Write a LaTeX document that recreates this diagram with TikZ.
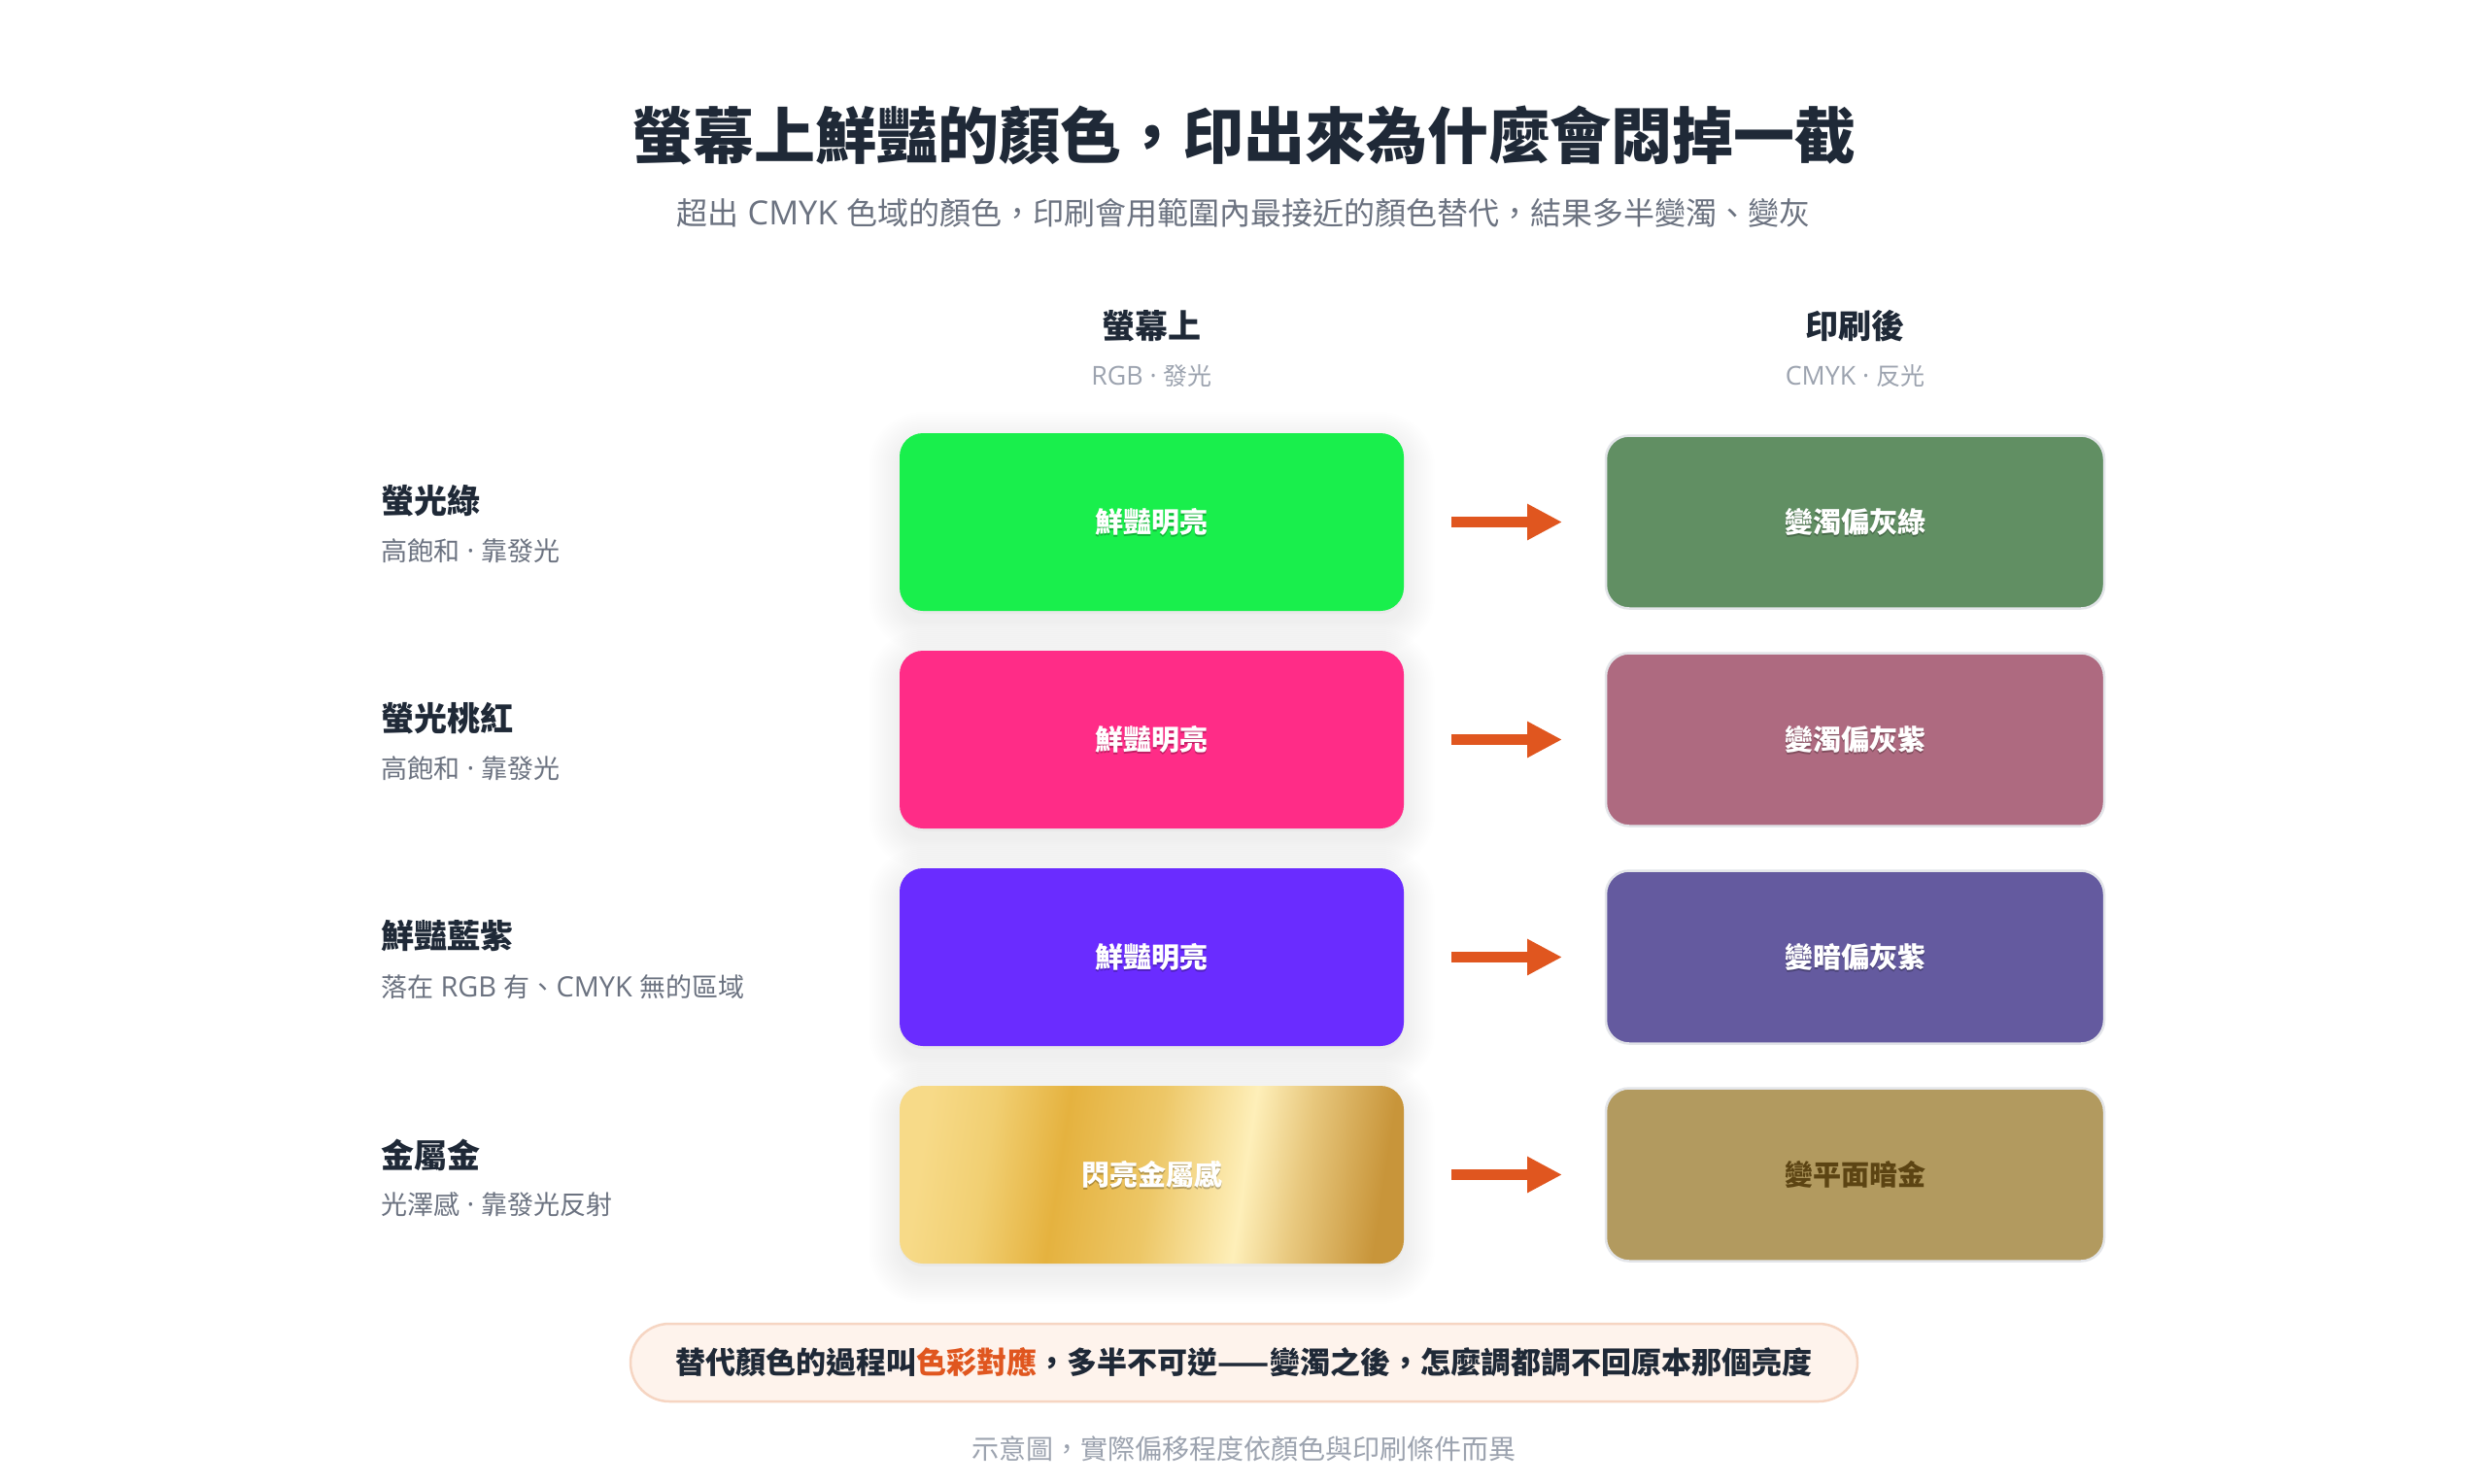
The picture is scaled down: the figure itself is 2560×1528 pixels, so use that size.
\documentclass[tikz,border=0pt]{standalone}
\usepackage{fontspec}
\setmainfont{Noto Sans CJK TC}
\newfontfamily\lat{Open Sans}[Scale=1.07]
\usetikzlibrary{arrows.meta}

\definecolor{ink}{HTML}{1F2937}
\definecolor{subgray}{HTML}{6B7280}
\definecolor{lightgray}{HTML}{9CA3AF}
\definecolor{neongreen}{HTML}{19EF4C}
\definecolor{neonpink}{HTML}{FF2C87}
\definecolor{neonviolet}{HTML}{6A2CFF}
\definecolor{dullgreen}{HTML}{618F63}
\definecolor{dullpink}{HTML}{AE6A80}
\definecolor{dullviolet}{HTML}{645A9F}
\definecolor{dullgold}{HTML}{B29A5F}
\definecolor{goldtext}{HTML}{5C4413}
\definecolor{cardedge}{HTML}{E3E5E9}
\definecolor{accent}{HTML}{E0561F}
\definecolor{notefill}{HTML}{FEF3EC}
\definecolor{noteedge}{HTML}{F6D5C2}
\definecolor{goldA}{HTML}{F7DA88}
\definecolor{goldB}{HTML}{F1CF72}
\definecolor{goldC}{HTML}{E5B23F}
\definecolor{goldD}{HTML}{EDC767}
\definecolor{goldE}{HTML}{FEEFB9}
\definecolor{goldF}{HTML}{E8C87E}
\definecolor{goldG}{HTML}{C8953A}

% metallic sheen: the path box spans 25bp..75bp of the shading
\pgfdeclarehorizontalshading{goldsheen}{100bp}{%
  color(0bp)=(goldA); color(25bp)=(goldA); color(32bp)=(goldB);
  color(40bp)=(goldC); color(50bp)=(goldD); color(60bp)=(goldE);
  color(66bp)=(goldF); color(75bp)=(goldG); color(100bp)=(goldG)}

\pgfdeclarelayer{shadowlayer}
\pgfsetlayers{shadowlayer,main}

\tikzset{
  x=1pt, y=-1pt,
  every node/.style={inner sep=0pt, outer sep=0pt},
  maintitle/.style={font=\fontsize{63}{72}\selectfont\bfseries, text=ink},
  subtitle/.style={font=\fontsize{32}{38}\selectfont, text=subgray},
  colhead/.style={font=\fontsize{34}{40}\selectfont\bfseries, text=ink},
  colsub/.style={font=\fontsize{25}{30}\selectfont, text=lightgray},
  rowhead/.style={anchor=west, font=\fontsize{34}{40}\selectfont\bfseries, text=ink},
  rowsub/.style={anchor=west, font=\fontsize{27}{32}\selectfont, text=subgray},
  screencard/.style={minimum width=519pt, minimum height=183pt, rounded corners=24pt},
  printcard/.style={minimum width=513pt, minimum height=178pt, rounded corners=24pt,
    draw=cardedge, line width=2.5pt},
  cardtext/.style={font=\fontsize{29}{34}\selectfont\bfseries, text=white},
  cardshade/.style={font=\fontsize{29}{34}\selectfont\bfseries, text=black, text opacity=0.25},
  flow/.style={draw=accent, line width=11pt, -{Triangle[length=36pt,width=35pt]},
    shorten <=49pt, shorten >=45pt},
  notebox/.style={minimum width=1263pt, minimum height=80pt, rounded corners=40pt,
    fill=notefill, draw=noteedge, line width=2.5pt,
    font=\fontsize{31}{36}\selectfont\bfseries, text=ink},
  footnote/.style={font=\fontsize{28}{32}\selectfont, text=lightgray},
}

% white card label with a soft drop under it
\newcommand{\litlabel}[3]{%
  \node[cardshade] (#1-shade) at ([yshift=-2pt]#2.center) {#3};
  \node[cardtext] (#1) at (#2.center) {#3};}

% soft drop shadow under a card, built from stacked translucent outlines
\newcommand{\cardshadow}[1]{%
  \foreach \k in {1,...,16}{%
    \pgfmathsetmacro\e{2*\k}%
    \pgfmathsetmacro\rr{24+\e}%
    \fill[black, opacity=0.0035, rounded corners=\rr pt]
      ([xshift=-\e pt, yshift=\e pt-10pt]#1.north west) rectangle
      ([xshift=\e pt, yshift=-\e pt-10pt]#1.south east);
  }%
  \fill[black, opacity=0.025, rounded corners=24pt]
    ([yshift=-3pt]#1.north west) rectangle ([yshift=-3pt]#1.south east);}

\begin{document}
\begin{tikzpicture}
\useasboundingbox (0,0) rectangle (2560,1528);
\begin{pgfonlayer}{shadowlayer}
\fill[white] (0,0) rectangle (2560,1528);
\end{pgfonlayer}

% heading
\node[maintitle] (title) at (1280,139) {螢幕上鮮豔的顏色，印出來為什麼會悶掉一截};
\node[subtitle] (lead) at (1280,219) {超出{\lat{} CMYK }色域的顏色，印刷會用範圍內最接近的顏色替代，結果多半變濁、變灰};

% column headings
\node[colhead] (hscreen) at (1185.5,336) {螢幕上};
\node[colsub] (hscreensub) at (1185.5,387) {{\lat RGB · }發光};
\node[colhead] (hprint) at (1909.5,336) {印刷後};
\node[colsub] (hprintsub) at (1909.5,387) {{\lat CMYK · }反光};

% row labels
\node[rowhead] (n1) at (392,516) {螢光綠};
\node[rowsub] (n1s) at (392,567) {高飽和{\lat{} · }靠發光};
\node[rowhead] (n2) at (392,740) {螢光桃紅};
\node[rowsub] (n2s) at (392,791) {高飽和{\lat{} · }靠發光};
\node[rowhead] (n3) at (392,964) {鮮豔藍紫};
\node[rowsub] (n3s) at (392,1016) {落在{\lat{} RGB }有、{\lat CMYK }無的區域};
\node[rowhead] (n4) at (392,1189) {金屬金};
\node[rowsub] (n4s) at (392,1240) {光澤感{\lat{} · }靠發光反射};

% screen colours
\node[screencard, fill=neongreen] (s1) at (1185.5,537.5) {};
\node[screencard, fill=neonpink] (s2) at (1185.5,761.5) {};
\node[screencard, fill=neonviolet] (s3) at (1185.5,985.5) {};
\node[screencard, shading=goldsheen, shading angle=-8.5] (s4) at (1185.5,1209.5) {};
\litlabel{s1t}{s1}{鮮豔明亮}
\litlabel{s2t}{s2}{鮮豔明亮}
\litlabel{s3t}{s3}{鮮豔明亮}
\litlabel{s4t}{s4}{閃亮金屬感}

% printed colours
\node[printcard, fill=dullgreen] (p1) at (1909.5,537.5) {};
\node[printcard, fill=dullpink] (p2) at (1909.5,761.5) {};
\node[printcard, fill=dullviolet] (p3) at (1909.5,985.5) {};
\node[printcard, fill=dullgold] (p4) at (1909.5,1209.5) {};
\litlabel{p1t}{p1}{變濁偏灰綠}
\litlabel{p2t}{p2}{變濁偏灰紫}
\litlabel{p3t}{p3}{變暗偏灰紫}
\node[cardtext, text=goldtext] (p4t) at (p4.center) {變平面暗金};

\begin{pgfonlayer}{shadowlayer}
\cardshadow{s1}\cardshadow{s2}\cardshadow{s3}\cardshadow{s4}
\end{pgfonlayer}

% conversion arrows
\draw[flow] (s1) -- (p1);
\draw[flow] (s2) -- (p2);
\draw[flow] (s3) -- (p3);
\draw[flow] (s4) -- (p4);

% takeaway and footnote
\node[notebox] (note) at (1280.5,1403) {替代顏色的過程叫\textcolor{accent}{色彩對應}，多半不可逆——變濁之後，怎麼調都調不回原本那個亮度};
\node[footnote] (foot) at (1280,1492) {示意圖，實際偏移程度依顏色與印刷條件而異};
\end{tikzpicture}
\end{document}
